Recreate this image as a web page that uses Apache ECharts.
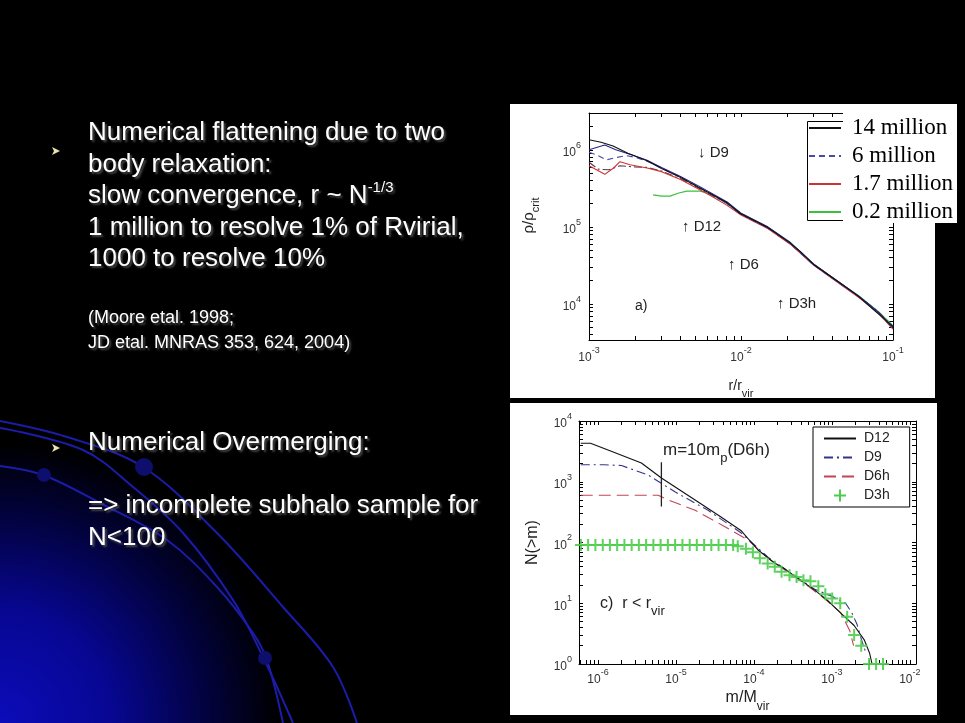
<!DOCTYPE html>
<html>
<head>
<meta charset="utf-8">
<script src="https://cdn.jsdelivr.net/npm/echarts@6/dist/echarts.min.js"></script>
<style>html,body{margin:0;padding:0;background:#000}#c{width:965px;height:723px}</style>
</head>
<body>
<div id="c"></div>
<script>
// ===== Panel a): rho/rho_crit vs r/r_vir =====
const d12R   = [1.0e-3, 1.2e-3, 1.44e-3, 1.8e-3, 2.41e-3, 3.0e-3, 3.98e-3, 5.37e-3, 6.5e-3, 8.1e-3, 9.8e-3, 1.5e-2, 2.1e-2, 2.45e-2, 3.0e-2, 4.5e-2, 5.8e-2, 7.5e-2, 0.1];
const d12Rho = [1.35e6, 1.25e6, 1.12e6, 9.0e5, 7.2e5, 5.7e5, 4.4e5, 3.2e5, 2.6e5, 2.05e5, 1.5e5, 9.8e4, 6.2e4, 4.8e4, 3.25e4, 1.87e4, 1.3e4, 8.3e3, 5.1e3];
const bsR    = [1.0e-3, 1.27e-3, 1.5e-3, 1.9e-3, 2.41e-3, 3.0e-3, 4.0e-3, 5.4e-3, 8.1e-3, 1.0e-2, 1.5e-2, 2.1e-2, 3.0e-2, 4.5e-2, 6.0e-2, 8.0e-2, 0.1];
const bsRho  = [1.0e6, 1.15e6, 1.0e6, 8.6e5, 7.3e5, 5.9e5, 4.5e5, 3.3e5, 2.1e5, 1.5e5, 1.0e5, 6.3e4, 3.3e4, 1.85e4, 1.25e4, 7.8e3, 4.9e3];
const bdR    = [1.0e-3, 1.15e-3, 1.3e-3, 1.5e-3, 1.75e-3, 2.0e-3, 2.41e-3, 3.0e-3, 4.0e-3, 5.4e-3, 8.1e-3, 1.0e-2, 1.5e-2, 2.1e-2, 3.0e-2, 4.5e-2, 6.0e-2, 8.0e-2, 0.1];
const bdRho  = [9.3e5, 8.4e5, 7.4e5, 7.9e5, 8.4e5, 8.0e5, 7.1e5, 5.8e5, 4.4e5, 3.2e5, 2.0e5, 1.48e5, 9.7e4, 6.1e4, 3.2e4, 1.82e4, 1.22e4, 7.7e3, 4.8e3];
const rdR    = [1.0e-3, 1.27e-3, 1.45e-3, 1.6e-3, 1.86e-3, 2.41e-3, 3.0e-3, 4.0e-3, 5.4e-3, 6.5e-3, 8.1e-3, 1.0e-2, 1.5e-2, 2.1e-2, 3.0e-2, 4.5e-2, 6.0e-2, 8.0e-2, 0.1];
const rdRho  = [6.2e5, 4.8e5, 5.8e5, 7.0e5, 6.4e5, 5.8e5, 5.2e5, 4.1e5, 3.0e5, 2.45e5, 1.9e5, 1.42e5, 9.5e4, 6.0e4, 3.2e4, 1.8e4, 1.2e4, 7.6e3, 4.7e3];
const ddR    = [1.0e-3, 1.15e-3, 1.35e-3, 1.6e-3, 2.0e-3, 2.41e-3, 3.0e-3, 4.0e-3, 5.4e-3, 8.1e-3, 1.0e-2, 1.5e-2, 2.1e-2, 3.0e-2, 4.5e-2, 6.0e-2, 8.0e-2, 0.1];
const ddRho  = [6.9e5, 5.6e5, 5.5e5, 6.2e5, 6.0e5, 5.9e5, 5.3e5, 4.2e5, 3.1e5, 2.0e5, 1.45e5, 9.6e4, 6.1e4, 3.25e4, 1.83e4, 1.24e4, 7.9e3, 5.0e3];
const grR    = [2.64e-3, 3.0e-3, 3.41e-3, 3.9e-3, 4.4e-3, 5.37e-3, 6.0e-3, 6.5e-3, 8.1e-3, 1.0e-2, 1.5e-2, 2.1e-2, 3.0e-2, 4.5e-2, 6.0e-2, 8.0e-2, 0.1];
const grRho  = [2.6e5, 2.5e5, 2.5e5, 2.75e5, 2.9e5, 2.9e5, 2.75e5, 2.6e5, 2.05e5, 1.5e5, 9.9e4, 6.3e4, 3.3e4, 1.86e4, 1.26e4, 8.0e3, 5.2e3];
const topLegendNames = ['14 million', '6 million', '1.7 million', '0.2 million'];

// ===== Panel c): N(>m) vs m/M_vir =====
const d12M = [6.0e-7, 8.0e-7, 1.37e-6, 3.6e-6, 6.5e-6, 1.76e-5, 3.78e-5, 6.8e-5, 1.12e-4, 1.84e-4, 2.4e-4, 2.7e-4, 3.96e-4, 5.97e-4, 8.75e-4, 1.28e-3, 1.93e-3, 2.6e-3, 3.05e-3, 3.28e-3];
const d12N = [4300, 4300, 3300, 2040, 1150, 500, 263, 158, 76, 46, 38, 34, 24, 16.6, 11.2, 7, 4.3, 2.5, 1.5, 1.0];
const d9M  = [6.0e-7, 1.2e-6, 2.0e-6, 4.4e-6, 9.8e-6, 2.58e-5, 6.8e-5, 1.5e-4, 2.7e-4, 4.0e-4, 6.0e-4, 1.0e-3, 1.5e-3, 1.8e-3, 2.1e-3, 2.4e-3, 2.7e-3];
const d9N  = [1900, 1900, 1850, 1290, 676, 339, 145, 58, 34, 24, 17, 13, 10, 7, 4.5, 2.5, 1.6];
const d6M  = [6.0e-7, 3.0e-6, 5.9e-6, 8.0e-6, 1.76e-5, 4.25e-5, 8.4e-5, 1.64e-4, 3.0e-4, 5.0e-4, 8.0e-4, 1.3e-3, 1.7e-3, 1.9e-3];
const d6N  = [600, 600, 600, 500, 339, 182, 110, 51, 30, 19, 12, 7, 3.5, 2];
const d3M  = [6.03e-7, 7.46e-7, 9.25e-7, 1.15e-6, 1.42e-6, 1.76e-6, 2.18e-6, 2.70e-6, 3.34e-6, 4.14e-6, 5.13e-6, 6.35e-6, 7.87e-6, 9.75e-6, 1.21e-5, 1.50e-5, 1.85e-5, 2.30e-5, 2.84e-5, 3.52e-5, 4.37e-5, 5.41e-5,
              6.2e-5, 7.9e-5, 9.7e-5, 1.19e-4, 1.50e-4, 1.85e-4, 2.26e-4, 2.86e-4, 3.52e-4, 4.32e-4, 5.31e-4, 6.71e-4, 8.24e-4, 1.01e-3, 1.28e-3, 1.57e-3, 1.93e-3, 2.38e-3, 3.0e-3, 3.69e-3, 4.53e-3];
const d3N  = [91, 91, 91, 91, 91, 91, 91, 91, 91, 91, 91, 91, 91, 91, 91, 91, 91, 91, 91, 91, 91, 91,
              87, 79, 69, 55, 45, 40, 33, 29, 27, 24, 23, 19, 14, 12, 10, 6, 3, 2, 1, 1, 1];
const mpLineM = [6.5e-6, 6.5e-6];
const mpLineN = [2100, 390];
const botLegendNames = ['D12', 'D9', 'D6h', 'D3h'];

// tick label values
const topXLabels = [1e-3, 1e-2, 1e-1];
const topYLabels = [1e4, 1e5, 1e6];
const botXLabels = [1e-6, 1e-5, 1e-4, 1e-3, 1e-2];
const botYLabels = [1, 10, 100, 1000, 10000];

function decadeTicks(e0, e1) { const out = []; for (let e = e0; e <= e1; e++) for (let k = 1; k < 10; k++) out.push(+(k + 'e' + e)); return out; }
const topXTicks = decadeTicks(-3, -1);
const topYTicks = decadeTicks(3, 6);
const botXTicks = decadeTicks(-7, -2);
const botYTicks = decadeTicks(0, 4);

const zip = (a, b) => a.map((v, i) => [v, b[i]]);
const FONT = "'Liberation Sans', Arial, Helvetica, sans-serif";
const SERIF = "'Liberation Serif', 'Times New Roman', serif";

function expLabel(v) { const e = Math.round(Math.log10(v)); return '{b|10}{s|' + e + '}'; }
const tickRich = {
  b: { fontFamily: FONT, fontSize: 12, color: '#333', lineHeight: 18, verticalAlign: 'bottom' },
  s: { fontFamily: FONT, fontSize: 9, color: '#333', lineHeight: 8, verticalAlign: 'top' }
};
function axisBase(grid, pos, min, max, ticks) {
  return {
    gridIndex: grid, type: 'log', logBase: 10, position: pos, min: min, max: max, silent: true,
    axisLine: { show: true, onZero: false, lineStyle: { color: '#000', width: 1 } },
    axisTick: { show: true, inside: true, length: 4, customValues: ticks, lineStyle: { color: '#000', width: 1 } },
    axisLabel: { show: false }, splitLine: { show: false }, minorTick: { show: false }, minorSplitLine: { show: false }
  };
}
function withLabels(ax, labels, margin, nameCfg) {
  ax.axisLabel = { show: true, customValues: labels, formatter: expLabel, rich: tickRich, margin: margin };
  return Object.assign(ax, nameCfg);
}
// subscript: main token top-aligned, subscript bottom-aligned in a taller line
const subRich = (fs, ss, drop, color) => ({
  a: { fontFamily: FONT, fontSize: fs, color: color || '#222', fill: color || '#222', lineHeight: fs, verticalAlign: 'top' },
  s: { fontFamily: FONT, fontSize: ss, color: color || '#222', fill: color || '#222', lineHeight: Math.round(1.15 * (fs + ss) / 2 + drop), verticalAlign: 'bottom' }
});

const xAxis = [
  withLabels(axisBase(0, 'bottom', 1e-3, 1e-1, topXTicks), topXLabels, 6,
    { name: '{a|r/r}{s|vir}', nameLocation: 'middle', nameGap: 39, nameTextStyle: { rich: subRich(14, 11, 6) } }),
  axisBase(0, 'top', 1e-3, 1e-1, topXTicks),
  withLabels(axisBase(1, 'bottom', 5.7e-7, 1.2e-2, botXTicks), botXLabels, 4,
    { name: '{a|m/M}{s|vir}', nameLocation: 'middle', nameGap: 26, nameTextStyle: { rich: subRich(16, 12, 7) } }),
  axisBase(1, 'top', 5.7e-7, 1.2e-2, botXTicks)
];
const yAxis = [
  withLabels(axisBase(0, 'left', 3400, 3e6, topYTicks), topYLabels, 8,
    { name: '{a|ρ/ρ}{s|crit}', nameLocation: 'middle', nameGap: 48, nameTextStyle: { rich: subRich(15, 11, 5), padding: [0, 0, 0, 22] } }),
  axisBase(0, 'right', 3400, 3e6, topYTicks),
  withLabels(axisBase(1, 'left', 1, 1e4, botYTicks), botYLabels, 7,
    { name: '{a|N(>m)}', nameLocation: 'middle', nameGap: 38, nameTextStyle: { rich: subRich(16, 12, 0) } }),
  axisBase(1, 'right', 1, 1e4, botYTicks)
];

const plusPath = 'path://M5,0 L7,0 L7,5 L12,5 L12,7 L7,7 L7,12 L5,12 L5,7 L0,7 L0,5 L5,5 Z';
function lineSeries(name, xi, xs, ys, color, width, type, z) {
  return { type: 'line', name: name, xAxisIndex: xi, yAxisIndex: xi, data: zip(xs, ys), symbol: 'none', smooth: false,
    lineStyle: { color: color, width: width, type: type }, itemStyle: { color: color }, z: z || 2, silent: true, animation: false };
}

const series = [
  lineSeries('0.2 million', 0, grR, grRho, '#3cbf3c', 1.2, 'solid', 2),
  lineSeries('1.7 million (run b)', 0, ddR, ddRho, '#5a3355', 1.1, [8, 3, 2, 3], 2),
  lineSeries('1.7 million', 0, rdR, rdRho, '#cc3333', 1.1, 'solid', 3),
  lineSeries('6 million', 0, bdR, bdRho, '#4a4aa6', 1.1, [6, 4], 3),
  lineSeries('6 million (run b)', 0, bsR, bsRho, '#26268c', 1.1, 'solid', 3),
  lineSeries('14 million', 0, d12R, d12Rho, '#111111', 1.1, 'solid', 4),

  lineSeries('D6h', 2, d6M, d6N, '#c24552', 1.1, [12, 6], 3),
  lineSeries('D9', 2, d9M, d9N, '#34348c', 1.1, [9, 4, 2, 4], 3),
  lineSeries('D12', 2, d12M, d12N, '#111111', 1.1, 'solid', 4),
  { type: 'scatter', name: 'D3h', xAxisIndex: 2, yAxisIndex: 2, data: zip(d3M, d3N), symbol: plusPath, symbolSize: 12,
    itemStyle: { color: '#4ccc4c', opacity: 0.9 }, z: 5, silent: true, animation: false },
  lineSeries('m = 10 m_p (D6h)', 2, mpLineM, mpLineN, '#222222', 1.3, 'solid', 5)
];

const bgGrad = new echarts.graphic.RadialGradient(0, 723, 280, [
  { offset: 0, color: '#0c0cba' }, { offset: 0.4, color: '#070792' }, { offset: 0.75, color: '#02023c' }, { offset: 1, color: '#000000' }
], true);
const shadow = { textShadowColor: 'rgba(80,80,80,0.9)', textShadowBlur: 2, textShadowOffsetX: 2, textShadowOffsetY: 2 };
const annStyle = (t, x, y, fs) => ({ type: 'text', x: x, y: y, z: 20, silent: true,
  style: { text: t, fill: '#222', fontFamily: "'Liberation Sans', 'DejaVu Sans', sans-serif", fontSize: fs || 14, verticalAlign: 'middle' } });

const graphic = { elements: [
  { type: 'rect', z: -20, silent: true, shape: { x: 0, y: 0, width: 965, height: 723 }, style: { fill: '#000' } },
  { type: 'rect', z: -19, silent: true, shape: { x: 0, y: 380, width: 420, height: 343 }, style: { fill: bgGrad } },
  { type: 'polyline', z: -18, silent: true, shape: { points: [[0, 421], [67, 437], [143, 467], [217, 533], [283, 607], [333, 667], [357, 723]], smooth: 0.35 }, style: { stroke: '#1c1caa', lineWidth: 2, fill: null } },
  { type: 'polyline', z: -18, silent: true, shape: { points: [[0, 428], [83, 450], [133, 487], [183, 533], [233, 600], [263, 657], [293, 723]], smooth: 0.35 }, style: { stroke: '#1c1caa', lineWidth: 2, fill: null } },
  { type: 'polyline', z: -18, silent: true, shape: { points: [[0, 466], [43, 475], [100, 503], [167, 540], [217, 587], [253, 633], [267, 660], [283, 723]], smooth: 0.35 }, style: { stroke: '#1c1caa', lineWidth: 2, fill: null } },
  { type: 'circle', z: -17, silent: true, shape: { cx: 144, cy: 467, r: 9 }, style: { fill: '#0e0e6c' } },
  { type: 'circle', z: -17, silent: true, shape: { cx: 44, cy: 475, r: 7 }, style: { fill: '#0e0e6c' } },
  { type: 'circle', z: -17, silent: true, shape: { cx: 265, cy: 658, r: 7 }, style: { fill: '#0e0e6c' } },

  // slide text
  { type: 'polygon', z: 10, silent: true, shape: { points: [[52, 147], [60, 151], [52, 155], [54, 151]] }, style: { fill: '#ece4b0' } },
  { type: 'polygon', z: 10, silent: true, shape: { points: [[52, 444], [60, 448], [52, 452], [54, 448]] }, style: { fill: '#ece4b0' } },
  { type: 'text', x: 88, y: 117, z: 10, silent: true, style: Object.assign({
      text: 'Numerical flattening due to two\nbody relaxation:\nslow convergence, r ~ N{sup|-1/3}\n1 million to resolve 1% of Rvirial,\n1000 to resolve 10%',
      fill: '#ffffff', fontFamily: FONT, fontSize: 26, lineHeight: 31.6, verticalAlign: 'top',
      rich: { sup: { fill: '#ffffff', fontFamily: FONT, fontSize: 15, lineHeight: 12, verticalAlign: 'top' } } }, shadow) },
  { type: 'text', x: 88, y: 306, z: 10, silent: true, style: Object.assign({
      text: '(Moore etal. 1998;\nJD etal. MNRAS 353, 624, 2004)', fill: '#ffffff', fontFamily: FONT, fontSize: 18, lineHeight: 25, verticalAlign: 'top' }, shadow) },
  { type: 'text', x: 88, y: 427, z: 10, silent: true, style: Object.assign({
      text: 'Numerical Overmerging:\n\n=> incomplete subhalo sample for\nN<100', fill: '#ffffff', fontFamily: FONT, fontSize: 26, lineHeight: 31.6, verticalAlign: 'top' }, shadow) },

  // white figure panels
  { type: 'rect', z: -5, silent: true, shape: { x: 510, y: 104, width: 425, height: 294 }, style: { fill: '#ffffff' } },
  { type: 'rect', z: -5, silent: true, shape: { x: 510, y: 403, width: 427, height: 312 }, style: { fill: '#ffffff' } },
  // legend boxes of panel a)
  { type: 'rect', z: 8, silent: true, shape: { x: 807.5, y: 121.5, width: 130, height: 99 }, style: { fill: '#ffffff', stroke: '#000', lineWidth: 1 } },
  { type: 'rect', z: 9, silent: true, shape: { x: 843, y: 104, width: 114, height: 119 }, style: { fill: '#ffffff' } },

  // annotations panel a)
  annStyle('↓ D9', 698, 153, 15),
  annStyle('↑ D12', 682, 227, 15),
  annStyle('↑ D6', 728, 265, 15),
  annStyle('↑ D3h', 777, 304, 15),
  annStyle('a)', 635, 306, 14),
  // annotations panel c)
  { type: 'text', x: 663, y: 442, z: 20, silent: true, style: { text: '{a|m=10m}{s|p}{a|(D6h)}', verticalAlign: 'top', rich: subRich(17, 13, 6) } },
  { type: 'text', x: 600, y: 596, z: 20, silent: true, style: { text: '{a|c)  r < r}{s|vir}', verticalAlign: 'top', rich: subRich(16, 13, 5) } }
] };

const option = {
  backgroundColor: '#000',
  animation: false,
  textStyle: { fontFamily: FONT },
  grid: [
    { left: 589, top: 113, width: 304, height: 227, outerBoundsMode: 'none', containLabel: false },
    { left: 579, top: 421, width: 337, height: 243, outerBoundsMode: 'none', containLabel: false }
  ],
  xAxis: xAxis,
  yAxis: yAxis,
  legend: [
    { data: topLegendNames, orient: 'vertical', left: 808, top: 116, padding: 0, itemWidth: 32, itemHeight: 14, itemGap: 4,
      selectedMode: false, z: 12, backgroundColor: 'transparent', itemStyle: { opacity: 0 },
      textStyle: { fontFamily: SERIF, fontSize: 23, color: '#000', lineHeight: 24, padding: [0, 0, 0, 6] } },
    { data: [{ name: 'D12' }, { name: 'D9' }, { name: 'D6h' }, { name: 'D3h', itemStyle: { opacity: 1, color: '#4ccc4c' } }],
      orient: 'vertical', left: 813, top: 427, padding: [4, 20, 4, 10], itemWidth: 32, itemHeight: 12, itemGap: 4,
      selectedMode: false, z: 12, backgroundColor: '#ffffff', borderColor: '#000', borderWidth: 1, itemStyle: { opacity: 0 },
      textStyle: { fontFamily: FONT, fontSize: 14, color: '#222', lineHeight: 15, padding: [0, 0, 0, 3] } }
  ],
  graphic: graphic,
  series: series
};
const chart = echarts.init(document.getElementById('c'), null, { renderer: 'canvas', width: 965, height: 723 });
chart.setOption(option);
</script>
</body>
</html>
